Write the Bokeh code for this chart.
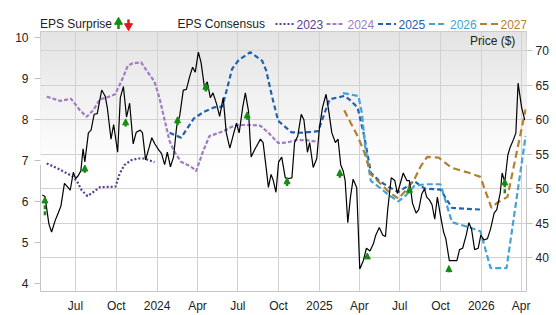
import numpy as np
import pandas as pd
from bokeh.plotting import figure
from bokeh.models import (Range1d, LinearAxis, SingleIntervalTicker, FixedTicker,
                          CustomJSTickFormatter, BoxAnnotation, Arrow, NormalHead,
                          ColumnDataSource, Legend, LegendItem, Label)
from bokeh.layouts import column
from bokeh.embed import file_html
from bokeh.resources import INLINE

FONT = "Liberation Sans"

# ---------------- data ----------------
price_dates = [
    "2023-04-17", "2023-04-23", "2023-05-02", "2023-05-08", "2023-05-16", "2023-05-23", "2023-05-29",
    "2023-06-06", "2023-06-13", "2023-06-19", "2023-06-26", "2023-07-01", "2023-07-07", "2023-07-13",
    "2023-07-18", "2023-07-22", "2023-07-30", "2023-08-05", "2023-08-12", "2023-08-19", "2023-08-29",
    "2023-09-06", "2023-09-11", "2023-09-19", "2023-09-25", "2023-10-04", "2023-10-10", "2023-10-17",
    "2023-10-24", "2023-10-31", "2023-11-08", "2023-11-15", "2023-11-24", "2023-11-29", "2023-12-06",
    "2023-12-14", "2023-12-20", "2023-12-27", "2024-01-05", "2024-01-11", "2024-01-18", "2024-01-24",
    "2024-01-31", "2024-02-07", "2024-02-14", "2024-02-21", "2024-02-29", "2024-03-07", "2024-03-15",
    "2024-03-21", "2024-03-27", "2024-04-03", "2024-04-09", "2024-04-17", "2024-04-23", "2024-04-30",
    "2024-05-06", "2024-05-14", "2024-05-21", "2024-05-29", "2024-06-05", "2024-06-13", "2024-06-22",
    "2024-06-28", "2024-07-04", "2024-07-12", "2024-07-18", "2024-07-25", "2024-07-31", "2024-08-09",
    "2024-08-15", "2024-08-21", "2024-08-27", "2024-09-03", "2024-09-08", "2024-09-14", "2024-09-19",
    "2024-09-25", "2024-10-01", "2024-10-08", "2024-10-16", "2024-10-23", "2024-10-31", "2024-11-06",
    "2024-11-13", "2024-11-21", "2024-11-27", "2024-12-05", "2024-12-10", "2024-12-18", "2024-12-26",
    "2025-01-01", "2025-01-08", "2025-01-16", "2025-01-22", "2025-01-29", "2025-02-06", "2025-02-12",
    "2025-02-18", "2025-02-24", "2025-02-28", "2025-03-06", "2025-03-12", "2025-03-18", "2025-03-26",
    "2025-04-02", "2025-04-10", "2025-04-17", "2025-04-25", "2025-05-03", "2025-05-08", "2025-05-16",
    "2025-05-24", "2025-05-30", "2025-06-04", "2025-06-12", "2025-06-20", "2025-06-26", "2025-07-02",
    "2025-07-09", "2025-07-17", "2025-07-23", "2025-07-30", "2025-08-07", "2025-08-13", "2025-08-20",
    "2025-08-26", "2025-08-31", "2025-09-06", "2025-09-12", "2025-09-18", "2025-09-24", "2025-09-30",
    "2025-10-08", "2025-10-13", "2025-10-21", "2025-10-30", "2025-11-07", "2025-11-13", "2025-11-20",
    "2025-11-28", "2025-12-04", "2025-12-10", "2025-12-17", "2025-12-25", "2025-12-31", "2026-01-07",
    "2026-01-15", "2026-01-22", "2026-01-30", "2026-02-05", "2026-02-13", "2026-02-17", "2026-02-23",
    "2026-03-02", "2026-03-07", "2026-03-15", "2026-03-20", "2026-03-25", "2026-04-02", "2026-04-09",
]
price_values = [
    49.1, 48.9, 44.9, 43.75, 45.4, 46.5, 47.5,
    50.8, 50.3, 49.8, 52.4, 51.5, 51.9, 52.6,
    55.8, 53.9, 58.1, 58.5, 60.8, 60.9, 64.3,
    63.4, 61.6, 57.2, 59.3, 55.3, 63.2, 64.8,
    60.4, 62.4, 56.5, 58.2, 58.5, 58.1, 54.2,
    56.0, 57.4, 56.5, 55.6, 55.1, 53.5, 55.3,
    53.2, 54.6, 59.0, 60.6, 64.3, 64.4, 66.4,
    67.6, 66.9, 69.8, 68.3, 64.6, 65.5, 63.2,
    63.9, 62.3, 60.5, 63.2, 58.1, 55.9, 58.1,
    59.5, 58.1, 61.8, 63.9, 61.3, 54.6, 55.8,
    56.5, 57.2, 56.7, 53.0, 50.2, 52.1, 51.2,
    49.5, 53.9, 54.6, 51.6, 51.5, 51.6, 56.7,
    57.6, 60.8, 60.0, 55.3, 56.7, 53.1, 54.4,
    58.8, 61.8, 63.7, 61.3, 58.1, 56.7, 57.2,
    53.5, 52.5, 51.2, 45.1, 48.8, 51.4, 50.2,
    38.4, 39.6, 41.4, 41.0, 42.1, 43.3, 44.4,
    43.3, 43.1, 47.0, 51.6, 51.2, 49.3, 50.7,
    52.3, 51.2, 51.2, 47.9, 46.5, 47.0, 49.3,
    50.0, 48.8, 48.4, 47.7, 45.6, 48.8, 46.5,
    43.75, 42.8, 39.6, 39.6, 39.6, 41.2, 41.4,
    43.3, 45.1, 44.2, 41.2, 41.4, 43.3, 42.6,
    42.8, 44.2, 46.5, 47.0, 49.5, 52.3, 51.0,
    54.9, 56.0, 57.2, 58.1, 65.3, 61.8, 60.0,
]

cons_2023_dates = ["2023-04-27", "2023-05-23", "2023-06-23", "2023-07-04", "2023-07-15", "2023-07-28",
                   "2023-08-10", "2023-08-25", "2023-09-29", "2023-10-08", "2023-10-19", "2023-11-04",
                   "2023-11-18", "2023-12-03", "2023-12-26"]
cons_2023 = [6.93, 6.80, 6.62, 6.50, 6.27, 6.13, 6.23, 6.35, 6.36, 6.66, 6.89, 7.01, 7.05, 7.05, 6.96]

cons_2024_dates = ["2023-04-27", "2023-05-28", "2023-06-21", "2023-07-11", "2023-07-26", "2023-08-10",
                   "2023-08-25", "2023-09-09", "2023-09-28", "2023-10-12", "2023-10-27", "2023-11-07",
                   "2023-11-26", "2023-12-11", "2023-12-26", "2024-01-06", "2024-01-18", "2024-01-29",
                   "2024-02-09", "2024-02-24", "2024-03-10", "2024-03-21", "2024-03-29", "2024-04-13",
                   "2024-04-28", "2024-05-15", "2024-05-30", "2024-06-18", "2024-07-03", "2024-08-02",
                   "2024-08-21", "2024-09-08", "2024-09-30", "2024-10-19", "2024-11-10", "2024-12-03",
                   "2024-12-26"]
cons_2024 = [8.56, 8.46, 8.51, 8.23, 8.07, 8.23, 8.50, 8.54, 8.62, 8.93, 9.32, 9.38, 9.40, 9.16, 8.93,
             8.54, 7.99, 7.48, 7.21, 6.97, 6.89, 6.82, 6.74, 7.21, 7.60, 7.66, 7.72, 7.83, 7.87, 7.87,
             7.85, 7.68, 7.43, 7.44, 7.50, 7.50, 7.46]

cons_2025_dates = ["2024-01-29", "2024-02-24", "2024-03-24", "2024-04-15", "2024-05-08", "2024-05-27",
                   "2024-06-07", "2024-06-18", "2024-07-03", "2024-07-29", "2024-08-25", "2024-09-03",
                   "2024-09-15", "2024-09-30", "2024-10-30", "2024-11-25", "2024-12-29", "2025-01-24",
                   "2025-02-26", "2025-03-09", "2025-03-28", "2025-04-12", "2025-04-27", "2025-05-16",
                   "2025-06-07", "2025-06-28", "2025-07-15", "2025-08-03", "2025-08-17", "2025-08-28",
                   "2025-10-01", "2025-10-27", "2025-11-26", "2026-01-01"]
cons_2025 = [7.68, 7.56, 8.03, 8.19, 8.30, 8.32, 8.77, 9.24, 9.46, 9.65, 9.44, 9.20, 8.62, 7.97, 7.69,
             7.68, 7.72, 8.50, 8.58, 8.50, 8.30, 7.60, 6.70, 6.50, 6.35, 6.23, 6.35, 6.50, 6.38, 6.31,
             6.29, 5.84, 5.82, 5.80]

cons_2026_dates = ["2025-02-23", "2025-03-30", "2025-04-07", "2025-04-14", "2025-04-27", "2025-05-20",
                   "2025-06-07", "2025-06-28", "2025-07-15", "2025-08-03", "2025-08-28", "2025-10-01",
                   "2025-10-27", "2025-12-04", "2025-12-30", "2026-01-22", "2026-02-27", "2026-04-11"]
cons_2026 = [8.65, 8.58, 8.15, 7.36, 6.50, 6.31, 6.15, 6.00, 6.15, 6.38, 6.42, 6.42, 5.49, 5.37, 5.27,
             4.37, 4.37, 7.60]

cons_2027_dates = ["2025-02-26", "2025-03-13", "2025-03-28", "2025-04-12", "2025-04-27", "2025-05-20",
                   "2025-06-07", "2025-06-28", "2025-07-15", "2025-08-03", "2025-08-17", "2025-09-01",
                   "2025-09-27", "2025-10-27", "2025-12-04", "2025-12-30", "2026-01-24", "2026-02-05",
                   "2026-03-01", "2026-04-11"]
cons_2027 = [8.23, 7.91, 7.60, 7.21, 6.66, 6.42, 6.23, 6.07, 6.27, 6.54, 6.85, 7.09, 7.07, 6.82, 6.70,
             6.60, 5.84, 5.96, 6.11, 8.25]

surprise_dates = ["2023-04-23", "2023-07-22", "2023-10-22", "2024-02-16", "2024-04-20", "2024-07-22",
                  "2024-10-20", "2025-02-16", "2025-04-19", "2025-07-23", "2025-10-20", "2026-02-23"]
surprise_estimate = [5.66, 6.70, 7.83, 7.87, 8.69, 8.00, 6.38, 6.58, 4.59, 6.20, 4.27, 6.20]
surprise_actual = [6.11, 6.89, 8.02, 8.07, 8.89, 8.19, 6.58, 6.78, 4.74, 6.37, 4.43, 6.55]

x_tick_dates = ["2023-07-01", "2023-10-01", "2024-01-01", "2024-04-01", "2024-07-01", "2024-10-01",
                "2025-01-01", "2025-04-01", "2025-07-01", "2025-10-01", "2026-01-01", "2026-04-01"]
x_tick_labels = ["Jul", "Oct", "2024", "Apr", "Jul", "Oct", "2025", "Apr", "Jul", "Oct", "2026", "Apr"]

consensus_years = ["2023", "2024", "2025", "2026", "2027"]

# ---------------- styles ----------------
year_colors = ["#5b3d90", "#a07cc4", "#2162b0", "#45a2d4", "#b3802f"]
year_dashes = ["2 2", "4 2", "5 3", "6 3", "7 4"]
GREEN = "#138c13"
RED = "#e8141b"
TEXT = "#222222"
BORDER_L, BORDER_R = 40, 30

# ---------------- main figure ----------------
p = figure(width=556, height=284, output_backend="svg", toolbar_location=None,
           x_axis_type="datetime",
           x_range=Range1d(pd.Timestamp("2023-04-13"), pd.Timestamp("2026-04-13")),
           y_range=Range1d(35.14, 72.78), y_axis_location="right",
           min_border_left=BORDER_L, min_border_right=BORDER_R, min_border_top=0, min_border_bottom=13,
           background_fill_color="white", border_fill_color="white")
p.outline_line_color = "#c4c4c4"
p.extra_y_ranges = {"eps": Range1d(3.796, 10.157)}

right_ax = p.yaxis[0]
right_ax.ticker = SingleIntervalTicker(interval=5)
left_ax = LinearAxis(y_range_name="eps", ticker=SingleIntervalTicker(interval=1))
p.add_layout(left_ax, "left")

for ax in (right_ax, left_ax):
    ax.axis_line_color = None
    ax.major_tick_line_color = "#c0c0c0"
    ax.major_tick_in = 0
    ax.major_tick_out = 6
    ax.minor_tick_line_color = None
    ax.major_label_text_font = FONT
    ax.major_label_text_font_size = "12px"
    ax.major_label_text_color = TEXT
left_ax.major_label_standoff = 6
right_ax.major_label_standoff = 3

tick_ms = [pd.Timestamp(d).value / 1e6 for d in x_tick_dates]
xa = p.xaxis[0]
xa.ticker = FixedTicker(ticks=tick_ms)
xa.formatter = CustomJSTickFormatter(args=dict(tick_vals=tick_ms, tick_names=x_tick_labels), code="""
let best = 0, bd = Infinity;
for (let i = 0; i < tick_vals.length; i++) {
  const d = Math.abs(tick_vals[i] - tick);
  if (d < bd) { bd = d; best = i; }
}
return tick_names[best];
""")
xa.axis_line_color = None
xa.major_tick_line_color = None
xa.minor_tick_line_color = None
xa.major_label_standoff = 1
xa.major_label_text_font = FONT
xa.major_label_text_font_size = "12px"
xa.major_label_text_color = TEXT

p.xgrid.grid_line_color = "#d2d2d2"
p.ygrid.grid_line_color = "#d2d2d2"

# background gradient (light grey at top fading to white)
g_end = 53.5
n_bands = 30
edges = np.linspace(72.78, g_end, n_bands + 1)
for i in range(n_bands):
    g = int(round(0xe4 + (0xff - 0xe4) * i / n_bands))
    p.add_layout(BoxAnnotation(top=float(edges[i]), bottom=g_end,
                               fill_color="#%02x%02x%02x" % (g, g, g), fill_alpha=1.0,
                               line_color=None, level="image"))

# consensus lines
cons_dates = [cons_2023_dates, cons_2024_dates, cons_2025_dates, cons_2026_dates, cons_2027_dates]
cons_vals = [cons_2023, cons_2024, cons_2025, cons_2026, cons_2027]
for d, v, c, dash in zip(cons_dates, cons_vals, year_colors, year_dashes):
    p.line(x=pd.to_datetime(d), y=v, y_range_name="eps", line_color=c, line_width=2.2,
           line_dash=dash)

# price
p.line(x=pd.to_datetime(price_dates), y=price_values, line_color="black", line_width=1.2)

# surprise arrows
src = ColumnDataSource(dict(x=pd.to_datetime(surprise_dates), y0=surprise_estimate, y1=surprise_actual))
p.add_layout(Arrow(end=NormalHead(size=6, fill_color=GREEN, line_color=GREEN, line_width=1),
                   source=src, x_start="x", y_start="y0", x_end="x", y_end="y1",
                   line_color=GREEN, line_width=2.5, line_dash="4 2", y_range_name="eps"))

# price legend (inside, top right)
dummy = p.line(x=[], y=[], line_color="#666666", line_width=2.5)
leg = Legend(items=[LegendItem(label="Price ($)", renderers=[dummy])], location="top_right",
             background_fill_alpha=0, border_line_alpha=0, padding=0, margin=3, spacing=0,
             glyph_width=17, glyph_height=14, label_height=14, label_width=53, label_standoff=6,
             label_text_font=FONT, label_text_font_size="12px", label_text_color=TEXT)
p.add_layout(leg)

# ---------------- top legend strip (x in page pixels) ----------------
lg = figure(width=556, height=31, output_backend="svg", toolbar_location=None,
            x_range=Range1d(BORDER_L, 556 - BORDER_R), y_range=Range1d(31, 0),
            x_axis_location=None, y_axis_location=None,
            min_border_left=BORDER_L, min_border_right=BORDER_R, min_border_top=0, min_border_bottom=0,
            background_fill_color="white", border_fill_color="white")
lg.outline_line_color = None
lg.grid.visible = False

TY = 23.5
lg.add_layout(Label(x=39.5, y=TY, text="EPS Surprise", text_font=FONT, text_font_size="12px",
                    text_baseline="middle", text_align="left", text_color=TEXT))
lg.add_layout(Label(x=177, y=TY, text="EPS Consensus", text_font=FONT, text_font_size="12px",
                    text_baseline="middle", text_align="left", text_color=TEXT))

# surprise symbols
lg.segment(x0=[118], y0=[28.5], x1=[118], y1=[22], line_color=GREEN, line_width=2.5)
lg.scatter(x=[118], y=[21.5], marker="triangle", size=8, fill_color=GREEN, line_color=GREEN)
lg.segment(x0=[128], y0=[19], x1=[128], y1=[25], line_color=RED, line_width=2.5)
lg.scatter(x=[128], y=[25.5], marker="inverted_triangle", size=8, fill_color=RED, line_color=RED)

sample_x0 = [275, 326, 377.5, 428.5, 479.5]
label_x = [296, 347, 398, 449.5, 500]
for yr, c, dash, sx, lx in zip(consensus_years, year_colors, year_dashes, sample_x0, label_x):
    lg.segment(x0=[sx], y0=[TY], x1=[sx + 18], y1=[TY], line_color=c, line_width=2.2,
               line_dash=dash)
    lg.add_layout(Label(x=lx, y=TY, text=yr, text_font=FONT, text_font_size="12px",
                        text_baseline="middle", text_align="left", text_color=c))

layout = column(lg, p, spacing=0)
open("out.html", "w").write(file_html(layout, INLINE))
